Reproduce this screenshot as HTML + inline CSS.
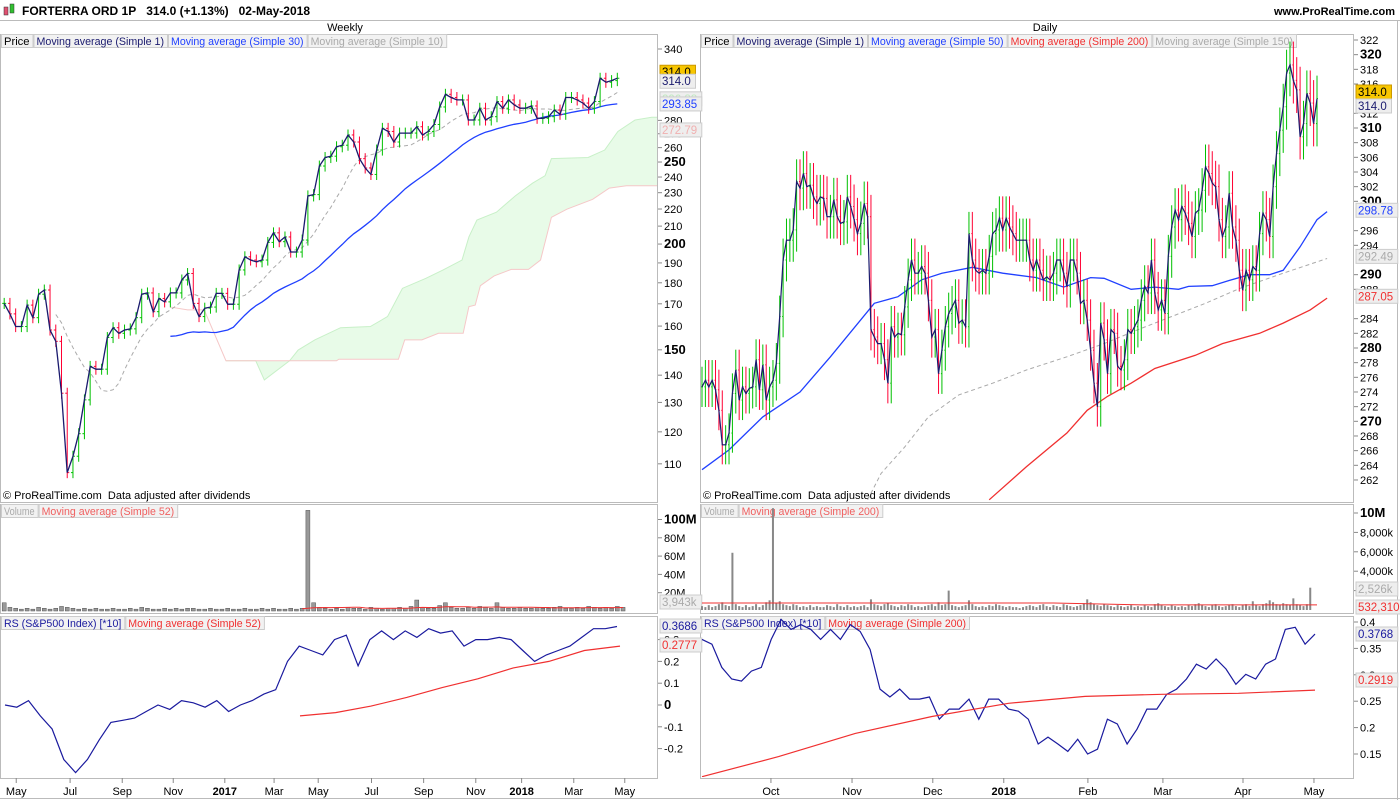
<!DOCTYPE html>
<html><head><meta charset="utf-8"><style>
body{margin:0;background:#fff;width:1400px;height:800px;overflow:hidden;font-family:"Liberation Sans",sans-serif}
svg text{font-family:"Liberation Sans",sans-serif}
</style></head><body>
<svg id="c" width="1400" height="800" xmlns="http://www.w3.org/2000/svg"></svg>
<script>
// ---------- DATA ----------
const weeklyClose=[170.2,165.4,159.8,159.8,169.4,163.7,174.5,176.5,158.3,153.5,133.3,107.4,112.3,119.4,130.9,143.4,142.3,142.3,155.1,159.3,156.9,158.3,158.8,163.7,174.5,175.1,166.4,172.5,170.9,175.1,175.1,181.4,184.6,170.2,164.2,168.0,168.5,174.9,174.9,169.8,169.8,186.4,193.2,191.5,190.6,191.5,200.9,206.2,201.3,203.9,195.7,195.7,202.2,228.0,228.8,247.3,253.1,254.0,260.6,261.7,269.1,264.0,252.3,246.0,241.7,258.3,274.0,271.7,264.0,270.5,270.5,270.5,275.2,269.1,271.7,276.9,290.4,300.6,298.0,296.0,296.0,280.3,280.3,289.4,280.3,282.8,294.7,289.4,296.0,292.0,289.4,289.4,291.2,281.6,281.6,282.8,288.0,284.7,298.0,298.0,296.0,293.5,289.4,294.7,314.0,310.6,312.0,314.0];
const weeklyVolume=[9,4,3,2,3,2,4,3,2,3,5,4,3,2,3,2,3,2,2,3,2,2,3,2,4,3,2,2,3,2,3,2,3,3,2,2,3,2,2,3,2,2,3,2,2,3,2,3,2,2,3,2,3,110,9,4,3,2,3,2,4,3,3,2,4,3,2,3,3,4,3,5,12,4,3,3,6,9,4,3,3,4,3,5,4,3,9,4,3,3,4,3,3,4,3,3,4,5,3,3,4,3,5,4,3,4,3,5,4];
const cloudTopWeek=[38.7,43.9,45.4,49.8,51.3,54.2,58.7,63.9,66.9,69.5,73.6,76.6,79.9,81.1,82.5,85.9,89.2,92.2,94.4,95.5,101.9,104.8,107.1,110.1,113,115.3];
const cloudTopPrice=[145.6,145.6,138.2,145.6,149.9,154.1,159.3,159.8,164.2,177.3,182.2,186.4,191.5,203.9,213.5,218.1,228.0,236.0,240.9,252.3,253.1,258.3,271.7,280.3,282.4,282.4];
const cloudBotWeek=[29,32,34.9,38.7,58,58.4,68.8,69.9,72.9,75.8,80.1,81.1,82.2,83.1,85.5,88.5,91.5,93.6,95.5,98.2,102.7,105.6,108.6,115.3];
const cloudBotPrice=[168.5,167.2,167.2,145.6,145.6,146.2,146.2,154.1,154.1,156.9,156.9,168.7,169.4,178.6,183.4,186.7,186.7,191.5,215.1,219.9,225.9,232.9,234.4,234.4];
const rsWeekly=[0,-0.01,0.02,-0.05,-0.11,-0.25,-0.31,-0.25,-0.16,-0.08,-0.07,-0.06,-0.03,0,-0.02,0.02,0.01,-0.01,0.02,-0.03,0,0.02,0.05,0.07,0.2,0.27,0.25,0.23,0.3,0.32,0.18,0.3,0.34,0.3,0.34,0.31,0.35,0.33,0.34,0.27,0.3,0.3,0.31,0.3,0.25,0.2,0.23,0.25,0.27,0.31,0.35,0.35,0.36];
const rsWeeklyMA=[-0.05,-0.035,-0.005,0.035,0.08,0.12,0.17,0.2,0.25,0.27];
const dailyClose=[274.7,275.6,274.7,275.6,274.3,271.5,266.8,266.8,268.4,273.8,277.0,272.9,274.7,273.8,274.5,274.7,278.4,274.3,277.7,272.9,274.7,275.6,277.9,284.3,292.0,294.7,294.7,296.1,302.7,301.8,303.8,302.0,302.2,300.6,299.7,300.6,300.4,297.9,297.9,300.2,297.9,297.0,297.2,300.6,299.3,297.5,295.6,297.0,299.7,297.9,282.5,281.5,280.6,280.6,278.4,275.2,282.9,281.5,282.0,281.8,285.6,289.3,292.0,290.2,290.2,291.1,290.2,286.5,281.5,282.5,276.5,279.7,282.9,284.7,285.6,286.5,283.4,283.8,282.9,295.6,292.0,290.6,290.2,290.6,290.2,292.5,295.6,296.1,297.7,296.1,297.7,296.5,295.6,294.7,294.7,294.7,294.7,292.0,290.6,292.0,290.6,289.3,289.7,289.3,290.2,292.0,292.0,290.2,288.4,292.0,292.0,290.2,286.1,286.5,283.8,279.7,275.2,272.0,283.4,281.1,276.5,282.5,282.0,277.5,277.0,278.4,282.5,282.0,282.9,283.8,286.5,288.4,287.5,292.0,287.5,285.2,286.5,284.7,292.5,296.5,298.8,297.5,299.3,298.4,297.0,295.2,298.4,298.8,301.5,304.7,303.8,302.5,302.0,297.5,295.2,296.5,301.1,296.5,294.7,290.6,287.9,290.6,289.3,291.1,290.6,295.6,298.4,297.5,295.2,302.0,306.5,309.7,312.9,317.5,318.6,316.5,315.2,308.8,310.6,314.7,313.4,310.6,314.0];
const dailyVolume=[0.4,0.3,0.5,0.3,0.4,0.6,0.8,0.5,0.4,5.9,0.6,0.4,0.3,0.5,0.3,0.4,0.6,0.3,0.5,0.8,1.0,10.5,0.7,0.9,0.6,0.5,0.4,0.6,0.5,0.3,0.4,0.3,0.5,0.3,0.4,0.3,0.3,0.5,0.4,0.3,0.6,0.4,0.3,0.5,0.3,0.4,0.3,0.4,0.5,0.3,1.1,0.6,0.5,0.4,0.6,0.7,0.5,0.4,0.3,0.5,0.4,0.6,0.5,0.3,0.4,0.3,0.4,0.5,0.6,0.4,0.8,0.5,0.6,2.0,0.5,0.4,0.3,0.4,0.5,1.0,0.6,0.4,0.3,0.4,0.3,0.5,0.4,0.6,0.5,0.4,0.3,0.4,0.3,0.3,0.2,0.3,0.4,0.5,0.4,0.3,0.5,0.6,0.4,0.3,0.5,0.4,0.3,0.6,0.5,0.4,0.3,0.4,0.5,0.7,1.1,0.8,0.6,0.5,0.4,0.6,0.5,0.4,0.3,0.5,0.4,0.3,0.4,0.5,0.3,0.4,0.3,0.5,0.4,0.3,0.6,0.7,0.5,0.4,0.3,0.5,0.4,0.3,0.4,0.3,0.5,0.4,0.6,0.7,0.5,0.4,0.3,0.5,0.6,0.4,0.3,0.4,0.5,0.6,0.4,0.3,0.5,0.6,0.4,0.9,0.5,0.4,0.6,0.7,1.0,0.8,0.6,0.5,0.7,0.6,0.5,1.2,0.6,0.5,0.4,0.6,2.3];
const dailyVolMA=[0.72,0.72,0.72,0.72,0.72,0.53,0.53,0.53];
const ma50Idx=[0,8,18,29,38,51,58,65,71,80,89,99,107,115,119,127,134,141,144,151,156,162,168,172,177,182,185];
const ma50Val=[263.4,266.1,270.6,274.0,278.8,286.1,287.0,289.3,290.2,291.0,290.2,289.6,288.3,289.6,289.5,288.0,288.3,288.0,288.4,288.5,289.2,290.0,290.0,290.6,293.8,297.5,298.6];
const ma150Idx=[49,53,60,67,76,86,96,108,119,129,139,149,159,172,185];
const ma150Val=[259.3,262.9,266.5,270.6,273.6,275.2,277.0,278.8,280.6,282.5,284.3,286.1,288.1,290.2,292.2];
const ma200Idx=[85,96,108,114,120,127,134,146,154,165,172,180,185];
const ma200Val=[259.3,263.8,268.4,271.5,273.4,275.2,277.2,279.0,280.6,282.0,283.4,285.2,286.8];
const rsDaily=[0.367,0.358,0.314,0.292,0.288,0.307,0.314,0.367,0.405,0.386,0.395,0.386,0.367,0.386,0.367,0.395,0.382,0.348,0.273,0.258,0.273,0.254,0.254,0.258,0.216,0.235,0.235,0.254,0.216,0.254,0.254,0.235,0.231,0.216,0.169,0.182,0.169,0.155,0.178,0.150,0.159,0.216,0.207,0.169,0.197,0.235,0.235,0.263,0.273,0.292,0.320,0.311,0.330,0.311,0.282,0.301,0.292,0.320,0.330,0.386,0.390,0.358,0.377];
const rsDailyMA=[0.107,0.145,0.189,0.221,0.246,0.259,0.263,0.265,0.271];
const weeklyPriceTicks=[340,280,270,260,250,240,230,220,210,200,190,180,170,160,150,140,130,120,110];
const dailyPriceTicks=[322,320,318,316,312,310,308,306,304,302,300,296,294,290,288,284,282,280,278,276,274,272,270,268,266,264,262];
const weeklyMonthLabels=["May","Jul","Sep","Nov","2017","Mar","May","Jul","Sep","Nov","2018","Mar","May"];
const weeklyMonthWeek=[2.1,11.5,20.6,29.5,38.5,47.1,54.8,64.1,73.2,82.3,90.3,99.4,108.3];
const dailyMonthLabels=["Oct","Nov","Dec","2018","Feb","Mar","Apr","May"];
const dailyMonthDay=[20.4,44.4,68.3,89.3,114.2,136.4,160.1,181.1];

// ---------- SCALES ----------
const NS="http://www.w3.org/2000/svg";
const svg=document.getElementById('c');
function mk(tag,attrs,parent){const e=document.createElementNS(NS,tag);for(const k in attrs)e.setAttribute(k,attrs[k]);(parent||svg).appendChild(e);return e;}
const xw=i=>4.2+i*5.73;
const yL=p=>49+367.6*Math.log(340/p);
const xd=i=>702+i*(615/(dailyClose.length-1));
const yR=p=>40+(322-p)*7.333;
const vL=v=>611-v*0.915;
const vR=v=>610-v*9.7;
const rL=v=>705-v*218;
const rR=v=>622+(0.4-v)*528;

const defs=mk('defs',{});
function clip(id,x,y,w,h){const c=mk('clipPath',{id:id},defs);mk('rect',{x:x,y:y,width:w,height:h},c);}
clip('cl1',1,35,656,467);clip('cl2',701,35,652,467);clip('cv1',1,505,656,108);clip('cv2',701,505,652,108);clip('cr1',1,617,656,160);clip('cr2',701,617,652,160);

// ---------- FRAME ----------
function txt(x,y,s,o,parent){const t=mk('text',Object.assign({x:x,y:y,'font-size':11,fill:'#000'},o||{}),parent);t.textContent=s;return t;}
let e;
e=mk('line',{x1:0,y1:20.5,x2:1400,y2:20.5,stroke:'#bbb'});
const ic=mk('g',{});
mk('rect',{x:4,y:7,width:4,height:8,fill:'#e05070',stroke:'#333','stroke-width':0.5},ic);mk('rect',{x:10,y:4,width:4,height:9,fill:'#30c030',stroke:'#333','stroke-width':0.5},ic);
e=txt(22,15,'FORTERRA ORD 1P\u00a0\u00a0 314.0 (+1.13%)\u00a0\u00a0 02-May-2018',{'font-weight':'bold','font-size':12});
e=txt(1395,15,'www.ProRealTime.com',{'font-weight':'bold','font-size':11,'text-anchor':'end'});
e=txt(345,31,'Weekly',{'text-anchor':'middle'});
e=txt(1045,31,'Daily',{'text-anchor':'middle'});

function box(x,y,w,h,name){const r=mk('rect',{x:x+0.5,y:y+0.5,width:w,height:h,fill:'none',stroke:'#bbb'});}
box(0,34,657,468,'weekly-price-panel');box(0,504,657,109,'weekly-volume-panel');box(0,616,657,162,'weekly-rs-panel');
box(700,34,653,468,'daily-price-panel');box(700,504,653,109,'daily-volume-panel');box(700,616,653,162,'daily-rs-panel');
e=mk('line',{x1:1397.5,y1:21,x2:1397.5,y2:800,stroke:'#bbb'});
e=mk('line',{x1:0,y1:798.5,x2:1400,y2:798.5,stroke:'#bbb'});

function legend(x,y,items,name){const g=mk('g',{});
  let cx=x;items.forEach(it=>{const w=it[0].length*5.1+6;mk('rect',{x:cx+0.5,y:y+0.5,width:w,height:13,fill:'#f2f2f2',stroke:'#ccc'},g);txt(cx+3,y+11,it[0],{fill:it[1],'textLength':w-6,'lengthAdjust':'spacingAndGlyphs'},g);cx+=w+1;});}
legend(1,34,[['Price','#000'],['Moving average (Simple 1)','#1a1a6e'],['Moving average (Simple 30)','#2040ff'],['Moving average (Simple 10)','#aaa']],'weekly-price-legend');
legend(701,34,[['Price','#000'],['Moving average (Simple 1)','#1a1a6e'],['Moving average (Simple 50)','#2040ff'],['Moving average (Simple 200)','#f03030'],['Moving average (Simple 150)','#aaa']],'daily-price-legend');
legend(1,504,[['Volume','#aaa'],['Moving average (Simple 52)','#f06060']],'weekly-volume-legend');
legend(701,504,[['Volume','#aaa'],['Moving average (Simple 200)','#f06060']],'daily-volume-legend');
legend(1,616,[['RS (S&P500 Index) [*10]','#1a1a9e'],['Moving average (Simple 52)','#f03030']],'weekly-rs-legend');
legend(701,616,[['RS (S&P500 Index) [*10]','#1a1a9e'],['Moving average (Simple 200)','#f03030']],'daily-rs-legend');
e=txt(3,499,'© ProRealTime.com\u00a0 Data adjusted after dividends');
e=txt(703,499,'© ProRealTime.com\u00a0 Data adjusted after dividends');

// ---------- AXES ----------
function axisTick(x,y,label,bold,name){const g=mk('g',{});
  mk('line',{x1:x,y1:y,x2:x+4,y2:y,stroke:'#888'},g);txt(x+6,y+4,label,{'font-size':bold?13:11,'font-weight':bold?'bold':'normal'},g);}
weeklyPriceTicks.forEach(p=>axisTick(658,yL(p),String(p),p%50===0,'weekly-price-tick'));
dailyPriceTicks.forEach(p=>axisTick(1354,yR(p),String(p),p%10===0,'daily-price-tick'));
[[100,'100M'],[80,'80M'],[60,'60M'],[40,'40M'],[20,'20M']].forEach(t=>axisTick(658,vL(t[0]),t[1],t[0]===100,'weekly-volume-tick'));
[[10,'10M'],[8,'8,000k'],[6,'6,000k'],[4,'4,000k'],[2,'2,000k']].forEach(t=>axisTick(1354,vR(t[0]),t[1],t[0]===10,'daily-volume-tick'));
[[0.3,'0.3'],[0.2,'0.2'],[0.1,'0.1'],[0,'0'],[-0.1,'-0.1'],[-0.2,'-0.2']].forEach(t=>axisTick(658,rL(t[0]),t[1],t[0]===0,'weekly-rs-tick'));
[[0.4,'0.4'],[0.35,'0.35'],[0.3,'0.3'],[0.25,'0.25'],[0.2,'0.2'],[0.15,'0.15']].forEach(t=>axisTick(1354,rR(t[0]),t[1],false,'daily-rs-tick'));
weeklyMonthLabels.forEach((m,i)=>{const x=xw(weeklyMonthWeek[i]);const g=mk('g',{});
  mk('line',{x1:x,y1:778,x2:x,y2:783,stroke:'#888'},g);txt(x,795,m,{'text-anchor':'middle','font-weight':/^20/.test(m)?'bold':'normal'},g);});
dailyMonthLabels.forEach((m,i)=>{const x=xd(dailyMonthDay[i]);const g=mk('g',{});
  mk('line',{x1:x,y1:778,x2:x,y2:783,stroke:'#888'},g);txt(x,795,m,{'text-anchor':'middle','font-weight':/^20/.test(m)?'bold':'normal'},g);});

// ---------- HELPERS ----------
function line(pts,o,clipId,name){const g=mk('polyline',Object.assign({points:pts.map(p=>p[0].toFixed(1)+','+p[1].toFixed(1)).join(' '),fill:'none','clip-path':'url(#'+clipId+')'},o));return g;}
function sma(a,n){return a.map((v,i)=>i<n-1?null:a.slice(i-n+1,i+1).reduce((s,x)=>s+x,0)/n);}
function bars(closes,xf,yf,clipId,name,wickPct,halfW){const g=mk('g',{'clip-path':'url(#'+clipId+')'});
  closes.forEach((c,i)=>{const prev=i?closes[i-1]:c;const up=c>=prev;const col=up?'#00c000':'#ff0033';
    const hi=Math.max(prev,c)*(1+wickPct),lo=Math.min(prev,c)*(1-wickPct);const x=xf(i);
    const b=mk('g',{stroke:col,'stroke-width':1},g);
    mk('line',{x1:x,y1:yf(hi),x2:x,y2:yf(lo)},b);mk('line',{x1:x-halfW,y1:yf(prev),x2:x,y2:yf(prev)},b);mk('line',{x1:x,y1:yf(c),x2:x+halfW,y2:yf(c)},b);});}
function tag(x,y,s,bg,fg,bd,name){const g=mk('g',{});
  mk('rect',{x:x,y:y-7,width:s.length*6.3+4,height:14,fill:bg,stroke:bd},g);txt(x+2,y+4,s,{fill:fg,'font-size':11.5},g);}

// ---------- WEEKLY PRICE ----------
const cg=mk('g',{'clip-path':'url(#cl1)'});
const topPts=cloudTopWeek.map((w,i)=>[xw(w),yL(cloudTopPrice[i])]);const botPts=cloudBotWeek.map((w,i)=>[xw(w),yL(cloudBotPrice[i])]);
mk('polygon',{points:topPts.concat(botPts.filter(p=>p[0]>=topPts[0][0]).reverse()).map(p=>p.join(',')).join(' '),fill:'#e8fbe8',stroke:'none'},cg);
mk('polyline',{points:topPts.map(p=>p.join(',')).join(' '),fill:'none',stroke:'#c8f0c8'},cg);
mk('polyline',{points:botPts.map(p=>p.join(',')).join(' '),fill:'none',stroke:'#f5c8c8'},cg);
const s10=sma(weeklyClose,10),s30=sma(weeklyClose,30);
line(s10.map((v,i)=>v?[xw(i),yL(v)]:null).filter(Boolean),{stroke:'#aaa','stroke-dasharray':'4,3'},'cl1','weekly-sma10-line');
line(s30.map((v,i)=>v?[xw(i),yL(v)]:null).filter(Boolean),{stroke:'#2040ff','stroke-width':1.3},'cl1','weekly-sma30-line');
bars(weeklyClose,xw,yL,'cl1','weekly-price-bars',0.015,2);
line(weeklyClose.map((v,i)=>[xw(i),yL(v)]),{stroke:'#1a1a6e','stroke-width':1.3},'cl1','weekly-close-line');
tag(660,yL(314)-6,'314.0','#f7c600','#000','#c90','weekly-last-price-tag');
tag(660,yL(314)+3,'314.0','#eee','#1a1a6e','#ccc','weekly-sma1-tag');
tag(660,yL(296.9),'296.88','#eee','#bfe8bf','#ccc','weekly-cloud-tag');
tag(660,yL(s30[s30.length-1]),'293.85','#eee','#2040ff','#ccc','weekly-sma30-tag');
tag(660,yL(272.8),'272.79','#eee','#f0b0b0','#ccc','weekly-cloud-low-tag');

// ---------- DAILY PRICE ----------
line(ma150Idx.map((d,i)=>[xd(d),yR(ma150Val[i])]),{stroke:'#aaa','stroke-dasharray':'4,3'},'cl2','daily-sma150-line');
line(ma200Idx.map((d,i)=>[xd(d),yR(ma200Val[i])]),{stroke:'#f03030','stroke-width':1.3},'cl2','daily-sma200-line');
line(ma50Idx.map((d,i)=>[xd(d),yR(ma50Val[i])]),{stroke:'#2040ff','stroke-width':1.3},'cl2','daily-sma50-line');
bars(dailyClose,xd,yR,'cl2','daily-price-bars',0.01,1);
line(dailyClose.map((v,i)=>[xd(i),yR(v)]),{stroke:'#1a1a6e','stroke-width':1.2},'cl2','daily-close-line');
tag(1356,92,'314.0','#f7c600','#000','#c90','daily-last-price-tag');
tag(1356,106,'314.0','#eee','#1a1a6e','#ccc','daily-sma1-tag');
tag(1356,yR(298.78),'298.78','#eee','#2040ff','#ccc','daily-sma50-tag');
tag(1356,yR(292.49),'292.49','#eee','#aaa','#ccc','daily-sma150-tag');
tag(1356,yR(287.05),'287.05','#eee','#f03030','#ccc','daily-sma200-tag');

// ---------- VOLUME ----------
const vg1=mk('g',{'clip-path':'url(#cv1)'});
weeklyVolume.forEach((v,i)=>{const r=mk('rect',{x:xw(i)-2,y:vL(v),width:4,height:611-vL(v),fill:'#999',stroke:'#555','stroke-width':0.5},vg1);});
const vma=sma(weeklyVolume.map(v=>Math.min(v,8)),10);
line(vma.map((v,i)=>v?[xw(i),vL(v)]:null).filter(Boolean).filter(p=>p[0]>300),{stroke:'#f03030'},'cv1','weekly-volume-ma-line');
tag(660,602,'3,943k','#eee','#aaa','#ccc','weekly-volume-tag');
const vg2=mk('g',{'clip-path':'url(#cv2)'});
dailyVolume.forEach((v,i)=>{const r=mk('rect',{x:xd(i)-1,y:vR(v),width:2,height:610-vR(v),fill:'#888'},vg2);});
line(dailyVolMA.map((v,i)=>[702+i*(615/(dailyVolMA.length-1)),vR(v)]),{stroke:'#f03030'},'cv2','daily-volume-ma-line');
tag(1356,589,'2,526k','#eee','#aaa','#ccc','daily-volume-tag');
tag(1356,607,'532,310','#eee','#f03030','#ccc','daily-volume-ma-tag');

// ---------- RS ----------
const nW=rsWeekly.length;
line(rsWeekly.map((v,i)=>[5+i*(612/(nW-1)),rL(v)]),{stroke:'#1a1a9e','stroke-width':1.2},'cr1','weekly-rs-line');
line(rsWeeklyMA.map((v,i)=>[300+i*(320/(rsWeeklyMA.length-1)),rL(v)]),{stroke:'#f03030','stroke-width':1.2},'cr1','weekly-rs-ma-line');
tag(660,626,'0.3686','#eee','#1a1a9e','#ccc','weekly-rs-tag');
tag(660,645,'0.2777','#eee','#f03030','#ccc','weekly-rs-ma-tag');
const nD=rsDaily.length;
line(rsDaily.map((v,i)=>[702+i*(613/(nD-1)),rR(v)]),{stroke:'#1a1a9e','stroke-width':1.2},'cr2','daily-rs-line');
line(rsDailyMA.map((v,i)=>[702+i*(613/(rsDailyMA.length-1)),rR(v)]),{stroke:'#f03030','stroke-width':1.2},'cr2','daily-rs-ma-line');
tag(1356,634,'0.3768','#eee','#1a1a9e','#ccc','daily-rs-tag');
tag(1356,680,'0.2919','#eee','#f03030','#ccc','daily-rs-ma-tag');
</script>
</body></html>
